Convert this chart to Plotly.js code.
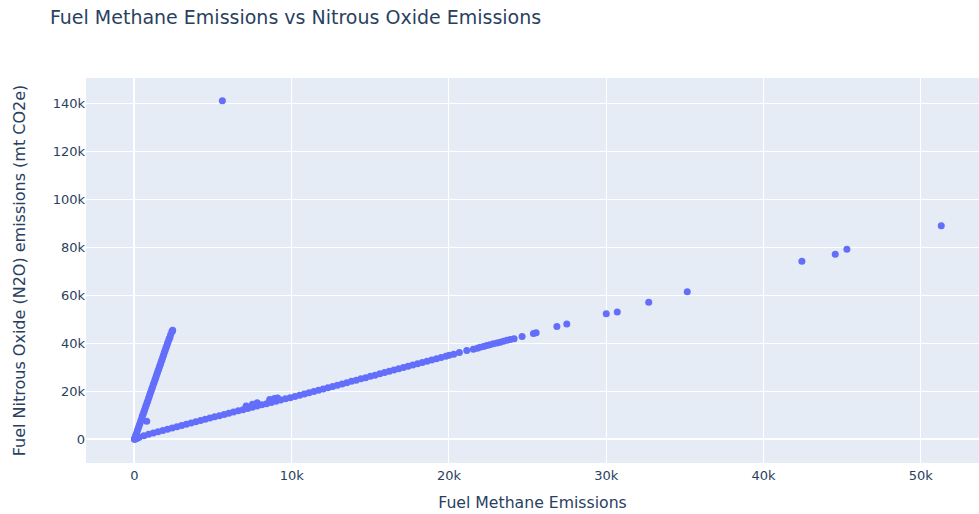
<!DOCTYPE html>
<html>
<head>
<meta charset="utf-8">
<script src="https://cdn.plot.ly/plotly-3.0.1.min.js"></script>
<style>html,body{margin:0;padding:0;background:#fff;}#chart{width:979px;height:514px;}</style>
</head>
<body>
<div id="chart"></div>
<script>
// Fuel Methane emissions (x) vs Fuel Nitrous Oxide emissions (y), mt CO2e
const originX = [0, 10, 30, 50, 80, 120, 200];
const originY = [0, 150, 80, 500, 200, 300, 500];

const steepX = [20, 60, 100, 150, 200, 250, 300, 350, 400, 450, 500, 550, 600, 650, 700, 750, 800, 850, 900, 950,
  1000, 1050, 1100, 1150, 1200, 1250, 1300, 1350, 1400, 1450, 1500, 1550, 1600, 1650, 1700, 1750, 1800, 1850, 1900, 1950,
  2000, 2050, 2100, 2150, 2200, 2250, 2300, 2380, 2410, 2430];
const steepY = [350, 1150, 1900, 2800, 3850, 4700, 5750, 6600, 7650, 8500, 9550, 10400, 11450, 12300, 13350, 14200, 15250, 16100, 17150, 18000,
  19050, 19900, 20950, 21800, 22850, 23700, 24750, 25600, 26650, 27500, 28550, 29400, 30450, 31300, 32350, 33200, 34250, 35100, 36150, 37000,
  38050, 38900, 39950, 40800, 41850, 42300, 43600, 44800, 45200, 45500];

const spurX = [780];
const spurY = [7500];

const shallowX = [300, 600, 900, 1200, 1500, 1800, 2100, 2400, 2700, 3000, 3300, 3600, 3900, 4200, 4500, 4800, 5100, 5400, 5700, 6000,
  6300, 6600, 6900, 7200, 7500, 7800, 8100, 8400, 8700, 9000, 9300, 9600, 9900, 10200, 10500, 10800, 11100, 11400, 11700, 12000,
  12300, 12600, 12900, 13200, 13500, 13800, 14100, 14400, 14700, 15000, 15300, 15600, 15900, 16200, 16500, 16800, 17100, 17400, 17700, 18000,
  18300, 18600, 18900, 19200, 19500, 19800, 20000];
const shallowY = [800, 1450, 2050, 2600, 3150, 3650, 4200, 4700, 5250, 5750, 6250, 6800, 7300, 7800, 8300, 8850, 9350, 9850, 10350, 10850,
  11350, 11850, 12350, 12850, 13350, 13850, 14350, 14850, 15350, 15850, 16350, 16850, 17350, 17850, 18350, 18900, 19400, 19950, 20450, 21000,
  21500, 22050, 22550, 23100, 23600, 24150, 24650, 25200, 25700, 26250, 26750, 27300, 27800, 28350, 28850, 29400, 29900, 30450, 30950, 31500,
  32000, 32550, 33050, 33600, 34100, 34650, 35000];

const bumpX = [7100, 7500, 7800, 8600, 8900, 9100];
const bumpY = [13900, 14600, 15200, 16600, 17000, 17200];

const tailX = [20300, 20660, 21130, 21550, 21800, 21980, 22200, 22400, 22600, 22820, 23050, 23250, 23450, 23680, 23900, 24140, 24650, 25370, 25540,
  26860, 27490, 30000, 30700, 32700, 35150, 42440, 44560, 45300, 51300];
const tailY = [35500, 36200, 37000, 37600, 38000, 38400, 38700, 39100, 39400, 39800, 40200, 40500, 40900, 41300, 41600, 41900, 42900, 44100, 44400,
  47000, 48100, 52400, 53100, 57200, 61500, 74300, 77200, 79300, 89100];

const outlierX = [5590];
const outlierY = [141200];

const xs = [].concat(originX, steepX, spurX, shallowX, bumpX, tailX, outlierX);
const ys = [].concat(originY, steepY, spurY, shallowY, bumpY, tailY, outlierY);

const data = [{
  type: 'scatter',
  mode: 'markers',
  x: xs,
  y: ys,
  marker: {color: '#636efa', size: 7}
}];

const layout = {
  width: 979, height: 514,
  font: {family: 'DejaVu Sans, Verdana, sans-serif', color: '#2a3f5f', size: 13},
  title: {text: 'Fuel Methane Emissions vs Nitrous Oxide Emissions', font: {size: 19}, x: 0.051, xanchor: 'left', y: 0.966, yanchor: 'middle'},
  paper_bgcolor: '#ffffff',
  plot_bgcolor: '#E5ECF6',
  margin: {l: 86, r: 0, t: 78, b: 51},
  showlegend: false,
  xaxis: {
    title: {text: 'Fuel Methane Emissions', font: {size: 15.7}, standoff: 15},
    range: [-3080, 53700],
    gridcolor: '#ffffff', zerolinecolor: '#ffffff', zerolinewidth: 2,
    dtick: 10000, ticks: '', ticklabelstandoff: 3,
    tickfont: {size: 13}
  },
  yaxis: {
    title: {text: 'Fuel Nitrous Oxide (N2O) emissions (mt CO2e)', font: {size: 16}, standoff: 23},
    range: [-9900, 150700],
    gridcolor: '#ffffff', zerolinecolor: '#ffffff', zerolinewidth: 2,
    dtick: 20000, ticks: '',
    tickfont: {size: 13}
  }
};

Plotly.newPlot('chart', data, layout, {displayModeBar: false, staticPlot: true});
</script>
</body>
</html>
